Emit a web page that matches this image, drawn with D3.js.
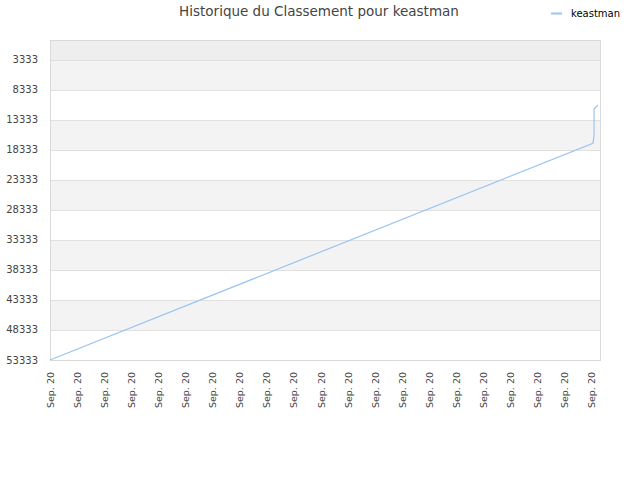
<!DOCTYPE html>
<html>
<head>
<meta charset="utf-8">
<script src="https://cdn.jsdelivr.net/npm/d3@7"></script>
<style>
  body { margin: 0; background: #fff; }
  text { font-family: "DejaVu Sans", sans-serif; }
</style>
</head>
<body>
<div id="chart"></div>
<script>
const Width = 640;
const Height = 480;
const Margin = {top: 40, right: 40, bottom: 120, left: 50};

const Title = 'Historique du Classement pour keastman';
const SeriesName = 'keastman';

// tick labels along the x axis (one per tick index)
const xTickLabels = ['Sep. 20', 'Sep. 20', 'Sep. 20', 'Sep. 20', 'Sep. 20', 'Sep. 20', 'Sep. 20',
  'Sep. 20', 'Sep. 20', 'Sep. 20', 'Sep. 20', 'Sep. 20', 'Sep. 20', 'Sep. 20',
  'Sep. 20', 'Sep. 20', 'Sep. 20', 'Sep. 20', 'Sep. 20', 'Sep. 20', 'Sep. 20'];
const yTicks = [3333, 8333, 13333, 18333, 23333, 28333, 33333, 38333, 43333, 48333, 53333];

// series: position (in tick units) and rank
const pointX = [0, 20.07, 20.11, 20.11, 20.25];
const pointRank = [53333, 17200, 16000, 11500, 10833];

const xDomain = [0, 20.33];
const yDomain = [0, 53333];

const innerW = Width - Margin.left - Margin.right;
const innerH = Height - Margin.top - Margin.bottom;

const svg = d3.select('#chart').
  append('svg').
  attr('width', Width).
  attr('height', Height);

const x = d3.scaleLinear().domain(xDomain).range([Margin.left, Margin.left + innerW]);
const y = d3.scaleLinear().domain(yDomain).range([Margin.top, Margin.top + innerH]);

//Alternating bands between grid lines
const bandEdges = [0].concat(yTicks);
svg.append('g').
  selectAll('rect').
  data(d3.pairs(bandEdges)).
  enter().
  append('rect').
  attr('x', Margin.left).
  attr('width', innerW).
  attr('y', d => y(d[0])).
  attr('height', d => y(d[1]) - y(d[0])).
  attr('fill', (d, i) => i === 0 ? '#eeeeee' : (i % 2 === 1 ? '#f3f3f3' : '#ffffff'));

//grid lines
svg.append('g').
  selectAll('line').
  data(yTicks).
  enter().
  append('line').
  attr('x1', Margin.left).
  attr('x2', Margin.left + innerW).
  attr('y1', d => Math.round(y(d)) + 0.5).
  attr('y2', d => Math.round(y(d)) + 0.5).
  attr('stroke', '#e0e0e0');

//plot border
svg.append('rect').
  attr('x', Margin.left + 0.5).
  attr('y', Margin.top + 0.5).
  attr('width', innerW).
  attr('height', innerH).
  attr('fill', 'none').
  attr('stroke', '#d9d9d9');

//y axis labels
svg.append('g').
  selectAll('text').
  data(yTicks).
  enter().
  append('text').
  attr('x', Margin.left - 12).
  attr('y', d => y(d)).
  attr('dy', '0.35em').
  attr('text-anchor', 'end').
  attr('fill', '#444').
  style('font-size', '10px').
  text(d => d);

//x axis labels
svg.append('g').
  selectAll('text').
  data(xTickLabels).
  enter().
  append('text').
  attr('transform', (d, i) => 'translate(' + (x(i) + 4) + ',' + (Margin.top + innerH + 12) + ') rotate(-90)').
  attr('text-anchor', 'end').
  attr('fill', '#444').
  style('font-size', '9.5px').
  text(d => d);

//the line
const line = d3.line().
  x(d => x(d[0])).
  y(d => y(d[1]));

svg.append('path').
  datum(d3.zip(pointX, pointRank)).
  attr('d', line).
  attr('fill', 'none').
  attr('stroke', '#99c5f2').
  attr('stroke-width', 1.2);

//title
svg.append('text').
  attr('x', 319).
  attr('y', 16).
  attr('text-anchor', 'middle').
  attr('fill', '#444').
  style('font-size', '13.5px').
  text(Title);

//legend
svg.append('line').
  attr('x1', 551).
  attr('x2', 562).
  attr('y1', 13.5).
  attr('y2', 13.5).
  attr('stroke', '#99c5f2').
  attr('stroke-width', 2);

svg.append('text').
  attr('x', 571).
  attr('y', 13).
  attr('dy', '0.35em').
  attr('fill', '#000').
  style('font-size', '10px').
  text(SeriesName);
</script>
</body>
</html>
